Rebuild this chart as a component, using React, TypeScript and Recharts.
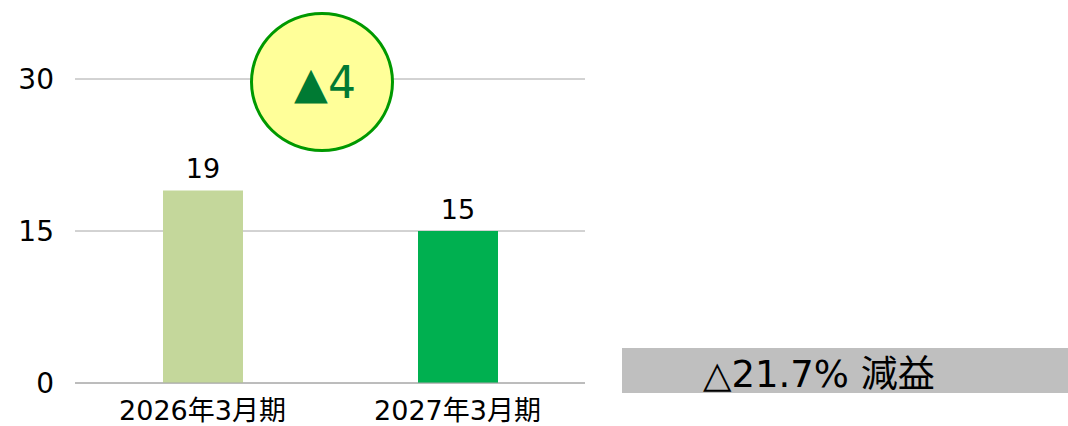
import React from "react";
import {
  BarChart,
  Bar,
  XAxis,
  YAxis,
  CartesianGrid,
  Cell,
  LabelList,
} from "recharts";

const periods = ["2026年3月期", "2027年3月期"];
const profits = [19, 15];
const barColors = ["#C4D79B", "#00B050"];
const yTicks = [0, 15, 30];
const diffLabel = "▲4";
const changeLabel = "△21.7% 減益";

const data = periods.map((p, i) => ({ period: p, value: profits[i] }));

const FONT = '"DejaVu Sans", "Noto Sans CJK JP", sans-serif';

//========== Profit comparison chart ===========
const App: React.FC = () => {
  return (
    <div
      style={{
        position: "fixed",
        left: 0,
        top: 0,
        width: 1068,
        height: 426,
        background: "#fff",
        fontFamily: FONT,
      }}
    >
      <BarChart
        width={1068}
        height={426}
        data={data}
        margin={{ top: 79, right: 483, bottom: 0, left: 0 }}
        barSize={80}
      >
        <CartesianGrid horizontal vertical={false} stroke="#A6A6A6" />
        <XAxis
          dataKey="period"
          height={43}
          tickLine={false}
          axisLine={{ stroke: "#A6A6A6" }}
          tick={{ fill: "#000", fontSize: 27, fontFamily: FONT }}
          tickMargin={12}
        />
        <YAxis
          width={75}
          domain={[0, 30]}
          ticks={yTicks}
          axisLine={false}
          tickLine={false}
          tick={{ fill: "#000", fontSize: 28, fontFamily: FONT }}
          tickMargin={15}
        />
        <Bar dataKey="value" isAnimationActive={false}>
          {data.map((d, i) => (
            <Cell key={d.period} fill={barColors[i]} />
          ))}
          <LabelList
            dataKey="value"
            position="top"
            offset={12}
            style={{ fill: "#000", fontSize: 27, fontFamily: FONT }}
          />
        </Bar>
      </BarChart>

      {/*========= difference bubble =========*/}
      <div
        style={{
          position: "absolute",
          left: 250,
          top: 12,
          width: 144,
          height: 140,
          borderRadius: "50%",
          border: "3px solid #009900",
          background: "#FFFF99",
          boxSizing: "border-box",
          display: "flex",
          alignItems: "center",
          justifyContent: "center",
          color: "#007A33",
          fontSize: 44,
          paddingLeft: 6,
        }}
      >
        {diffLabel}
      </div>

      {/*========= change box =========*/}
      <div
        style={{
          position: "absolute",
          left: 622,
          top: 348,
          width: 446,
          height: 45,
          background: "#BFBFBF",
          display: "flex",
          alignItems: "center",
          paddingLeft: 81,
          boxSizing: "border-box",
          color: "#000",
          fontSize: 37,
        }}
      >
        {changeLabel}
      </div>
    </div>
  );
};

export default App;
